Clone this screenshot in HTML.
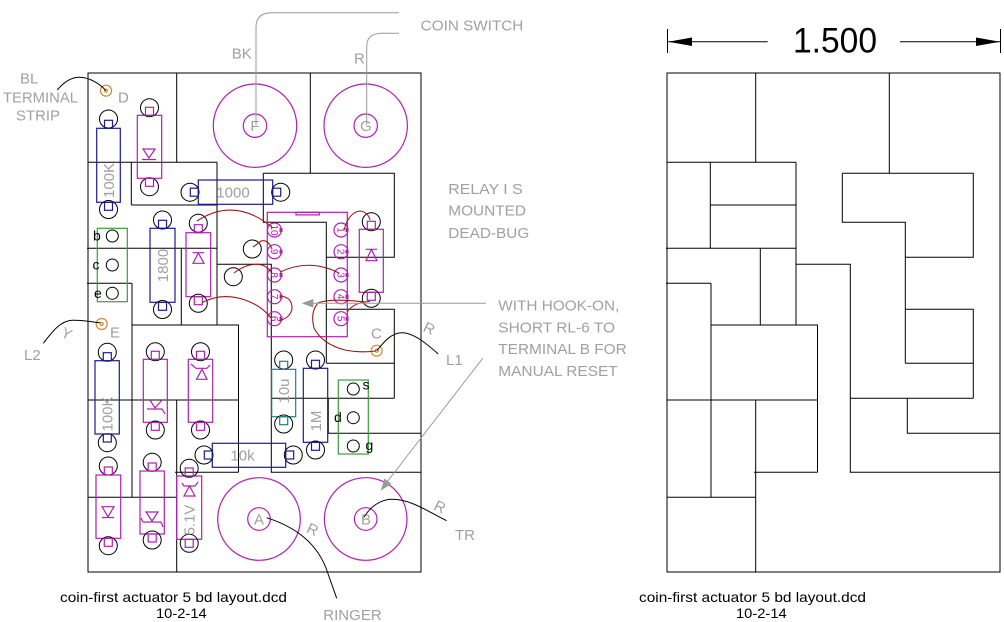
<!DOCTYPE html>
<html><head><meta charset="utf-8"><style>
html,body{margin:0;padding:0;background:#fff}
svg{display:block}
.k{stroke:#000;fill:none;stroke-width:1}
.m{stroke:#b020b0;fill:none;stroke-width:1.2}
.bl{stroke:#1c1c90;fill:none;stroke-width:1.2}
.tl{stroke:#207f7f;fill:none;stroke-width:1.2}
.gr{stroke:#3c9c3c;fill:none;stroke-width:1.2}
.w{stroke:#a01818;fill:none;stroke-width:1.1}
.o{stroke:#d08a30;fill:none;stroke-width:1.2}
.gl{stroke:#9a9a9a;fill:none;stroke-width:1}
.g{fill:#a0a0a0;font-size:15px}
.t{fill:#000;font-size:14px}
.pn{fill:#b020b0;font-size:10px}
</style></head><body>
<svg width="1004" height="622" viewBox="0 0 1004 622" xmlns="http://www.w3.org/2000/svg" font-family="'Liberation Sans', Arial, sans-serif">
<rect width="1004" height="622" fill="#fff"/>
<defs>
<path id="brd" d="M667,73H1000V572H667Z M755.7,73V162.3 M889.3,73V173.3 M667,162.3H796 M710.3,162.3V205 M710.3,205H796 M796,162.3V325 M666,248.3H796 M666,283.3H711 M711,283.3V497.3 M760.3,248.3V325 M711,325H818 M817.5,325V472.3 M667,400H818 M755.7,400V572 M754,472.3H817.5 M667,497.3H755.7 M842.3,173.3H973.3V257.3H905.3 M842.3,173.3V222.3H905.3V363.3 M905.3,309.3H973.3V398.3 M905.3,363.3H973.3 M796,264.3H850.3V472.3H1000 M850.3,398.3H973.3 M907.3,398.3V433.3H1000"/>
</defs>

<!-- right board -->
<use href="#brd" class="k"/>
<path class="k" d="M710.3,205V248.3"/>
<!-- left board -->
<use href="#brd" class="k" transform="translate(-579,0)"/>

<!-- dimension -->
<path class="k" d="M667.5,29V53 M667,41.7H767.7 M900,41.7H1000 M1000.5,29V53"/>
<polygon points="668,41.7 692,37.5 692,46" fill="#000"/>
<polygon points="1000,41.7 976,37.5 976,46" fill="#000"/>
<text x="793" y="52.3" font-size="35" textLength="84" lengthAdjust="spacingAndGlyphs" fill="#000">1.500</text>

<!-- big circles -->
<circle class="m" cx="255" cy="125.7" r="41.7"/><circle class="m" cx="255" cy="125.7" r="11.7"/>
<circle class="m" cx="365.7" cy="125.7" r="41.7"/><circle class="m" cx="365.7" cy="125.7" r="11.7"/>
<circle class="m" cx="259" cy="519" r="41.3"/><circle class="m" cx="259" cy="519" r="11.3"/>
<circle class="m" cx="365.7" cy="519" r="41.3"/><circle class="m" cx="365.7" cy="519" r="11.3"/>
<text class="g" x="255" y="131" text-anchor="middle">F</text>
<text class="g" x="366" y="131" text-anchor="middle">G</text>
<text class="g" x="259" y="524.5" text-anchor="middle">A</text>
<text class="g" x="366" y="524.5" text-anchor="middle">B</text>

<!-- terminals -->
<circle class="o" cx="106" cy="90.7" r="5.5"/><circle class="o" cx="106" cy="90.7" r="1.5"/>
<circle class="o" cx="101.7" cy="324" r="5.5"/><circle class="o" cx="101.7" cy="324" r="1.5"/>
<circle class="o" cx="376.7" cy="350.7" r="5.5"/><circle class="o" cx="376.7" cy="350.7" r="1.5"/>
<text class="g" x="118" y="102.7">D</text>
<text class="g" x="110" y="337.3">E</text>
<text class="g" x="371" y="338.3">C</text>

<!-- upper 100K -->
<rect class="bl" x="96.7" y="128.3" width="23.6" height="74"/>
<circle class="k" cx="108.5" cy="119" r="9"/><rect class="bl" x="104.5" y="120.3" width="8" height="8"/>
<circle class="k" cx="108.5" cy="209.5" r="9"/><rect class="bl" x="104.5" y="202.3" width="8" height="8"/>
<text class="g" transform="translate(108.5,180.5) rotate(-90)" text-anchor="middle" dy="0.36em">100K</text>

<!-- D1 -->
<rect class="m" x="137.3" y="115.3" width="24.4" height="63"/>
<circle class="k" cx="149.5" cy="107.7" r="9"/><rect class="m" x="145.5" y="107.3" width="8" height="8"/>
<circle class="k" cx="149.5" cy="186.7" r="9"/><rect class="m" x="145.5" y="178.3" width="8" height="8"/>
<path class="m" d="M143,149H155L149,158Z M142,159.5H156"/>

<!-- 1000 -->
<rect class="bl" x="198.3" y="180" width="74.4" height="24.3"/>
<circle class="k" cx="190" cy="192.2" r="9"/><rect class="bl" x="190.3" y="188.2" width="8" height="8"/>
<circle class="k" cx="280.7" cy="192.2" r="9"/><rect class="bl" x="272.7" y="188.2" width="8" height="8"/>
<text class="g" x="233" y="197.5" text-anchor="middle">1000</text>

<!-- bce box -->
<rect class="gr" x="97.3" y="228.3" width="30" height="73.4"/>
<circle class="k" cx="112.3" cy="236" r="6"/>
<circle class="k" cx="112.3" cy="265" r="6"/>
<circle class="k" cx="112.3" cy="293.3" r="6"/>
<text class="t" x="93" y="240.5">b</text>
<text class="t" x="92.5" y="269.5">c</text>
<text class="t" x="94" y="298">e</text>

<!-- 1800 -->
<rect class="bl" x="150" y="228.3" width="25" height="74"/>
<circle class="k" cx="162.5" cy="220" r="9"/><rect class="bl" x="158.5" y="220.3" width="8" height="8"/>
<circle class="k" cx="162.5" cy="309.5" r="9"/><rect class="bl" x="158.5" y="302.3" width="8" height="8"/>
<text class="g" transform="translate(162.5,265.5) rotate(-90)" text-anchor="middle" dy="0.36em">1800</text>

<!-- D2 -->
<rect class="m" x="186" y="232.7" width="24.7" height="64"/>
<circle class="k" cx="198.3" cy="223.3" r="9"/><rect class="m" x="194.3" y="224.7" width="8" height="8"/>
<circle class="k" cx="198.3" cy="303.3" r="9"/><rect class="m" x="194.3" y="296.7" width="8" height="8"/>
<path class="m" d="M192.5,252.7H204 M198.3,253L193,263.3H204Z"/>

<!-- unlabeled pads -->
<circle class="k" cx="252.3" cy="249" r="9"/>
<circle class="k" cx="233.3" cy="276.7" r="9"/>

<!-- IC -->
<rect class="m" x="267.3" y="212.3" width="80" height="124.4"/>
<rect class="m" x="296" y="212.3" width="23.3" height="2.6"/>
<g class="m">
<circle cx="274.5" cy="230" r="7"/><circle cx="274.5" cy="251.7" r="7"/><circle cx="274.5" cy="275" r="7"/><circle cx="274.5" cy="296.7" r="7"/><circle cx="274.5" cy="318.7" r="7"/>
<circle cx="341" cy="230" r="7"/><circle cx="341" cy="251.7" r="7"/><circle cx="341" cy="275" r="7"/><circle cx="341" cy="296.7" r="7"/><circle cx="341" cy="318.7" r="7"/>
</g>
<g fill="#b020b0">
<rect x="279.5" y="228" width="3" height="4"/><rect x="279.5" y="249.7" width="3" height="4"/><rect x="279.5" y="273" width="3" height="4"/><rect x="279.5" y="294.7" width="3" height="4"/><rect x="279.5" y="316.7" width="3" height="4"/>
<rect x="345.5" y="228" width="3" height="4"/><rect x="345.5" y="249.7" width="3" height="4"/><rect x="345.5" y="273" width="3" height="4"/><rect x="345.5" y="294.7" width="3" height="4"/><rect x="345.5" y="316.7" width="3" height="4"/>
</g>
<text class="pn" transform="translate(274.5,230) rotate(90)" text-anchor="middle" dy="0.35em">10</text>
<text class="pn" transform="translate(274.5,251.7) rotate(90)" text-anchor="middle" dy="0.35em">9</text>
<text class="pn" transform="translate(274.5,275) rotate(90)" text-anchor="middle" dy="0.35em">8</text>
<text class="pn" transform="translate(274.5,296.7) rotate(90)" text-anchor="middle" dy="0.35em">7</text>
<text class="pn" transform="translate(274.5,318.7) rotate(90)" text-anchor="middle" dy="0.35em">6</text>
<text class="pn" transform="translate(341,230) rotate(90)" text-anchor="middle" dy="0.35em">1</text>
<text class="pn" transform="translate(341,251.7) rotate(90)" text-anchor="middle" dy="0.35em">2</text>
<text class="pn" transform="translate(341,275) rotate(90)" text-anchor="middle" dy="0.35em">3</text>
<text class="pn" transform="translate(341,296.7) rotate(90)" text-anchor="middle" dy="0.35em">4</text>
<text class="pn" transform="translate(341,318.7) rotate(90)" text-anchor="middle" dy="0.35em">5</text>

<!-- D3 -->
<rect class="m" x="359.3" y="229.3" width="24" height="63"/>
<circle class="k" cx="371.3" cy="221.7" r="9"/><rect class="m" x="367.3" y="221.3" width="8" height="8"/>
<circle class="k" cx="371.3" cy="298.3" r="9"/><rect class="m" x="367.3" y="292.3" width="8" height="8"/>
<path class="m" d="M365.5,249.3H377 M371.3,249.5L366,260.7H377Z"/>

<!-- wires -->
<path class="w" d="M197,221 Q235,196 273,228"/>
<path class="w" d="M253,247 L261,241 Q268,239 272,249"/>
<path class="w" d="M234,273 Q248,262 262,265 Q270,268 272,274"/>
<path class="w" d="M280,272 Q310,258 339,273"/>
<path class="w" d="M202,302.7 Q222,292 245,300 Q262,306 271,318"/>
<path class="w" d="M280,296 Q292,297 292,308 Q291,318 278,321"/>
<path class="w" d="M344,230 Q349,212 360,211 Q368,212 370,220"/>
<path class="w" d="M347,312 Q354,302 370,301.5"/>
<path class="w" d="M365,302 Q330,298 318,303 Q310,312 314,328 Q322,344 345,350 Q360,353 376,351"/>

<!-- lower 100K -->
<rect class="bl" x="95" y="360.7" width="24.3" height="73.3"/>
<circle class="k" cx="107.3" cy="352.3" r="9"/><rect class="bl" x="103.3" y="352.7" width="8" height="8"/>
<circle class="k" cx="107.3" cy="442.7" r="9"/><rect class="bl" x="103.3" y="434" width="8" height="8"/>
<text class="g" transform="translate(107.3,414) rotate(-90)" text-anchor="middle" dy="0.36em">100K</text>

<!-- Q1 -->
<rect class="m" x="143.3" y="359.3" width="24" height="63"/>
<circle class="k" cx="155.3" cy="351.7" r="9"/><rect class="m" x="151.3" y="351.3" width="8" height="8"/>
<circle class="k" cx="155.3" cy="430" r="9"/><rect class="m" x="151.3" y="422.3" width="8" height="8"/>
<path class="m" d="M150,400 L155,408 L162,400 M147,409H162 L165,414"/>

<!-- Z1 -->
<rect class="m" x="188.3" y="359.3" width="24.4" height="63"/>
<circle class="k" cx="200.5" cy="351.7" r="9"/><rect class="m" x="196.5" y="351.3" width="8" height="8"/>
<circle class="k" cx="200.5" cy="430" r="9"/><rect class="m" x="196.5" y="422.3" width="8" height="8"/>
<path class="m" d="M191,364 L196,368.3H207 L210,365 M202,369.3 L196.5,379.3H207Z"/>

<!-- 10u -->
<rect class="tl" x="271.7" y="369.3" width="24" height="47.4"/>
<circle class="k" cx="283.7" cy="360" r="9"/><rect class="tl" x="279.7" y="361.3" width="8" height="8"/>
<circle class="k" cx="283.7" cy="424" r="9"/><rect class="tl" x="279.7" y="416.7" width="8" height="8"/>
<text class="g" transform="translate(283.7,391) rotate(-90)" text-anchor="middle" dy="0.36em">10u</text>

<!-- 1M -->
<rect class="bl" x="303.3" y="368.3" width="24.4" height="74"/>
<circle class="k" cx="315.5" cy="360" r="9"/><rect class="bl" x="311.5" y="360.3" width="8" height="8"/>
<circle class="k" cx="315.5" cy="450" r="9"/><rect class="bl" x="311.5" y="442.3" width="8" height="8"/>
<text class="g" transform="translate(315.5,421) rotate(-90)" text-anchor="middle" dy="0.36em">1M</text>

<!-- sdg box -->
<rect class="gr" x="338.3" y="380" width="30" height="74"/>
<circle class="k" cx="353.3" cy="389" r="6"/>
<circle class="k" cx="353.3" cy="417.7" r="6"/>
<circle class="k" cx="353.3" cy="446" r="6"/>
<text class="t" x="362.5" y="389.5">s</text>
<text class="t" x="334" y="422">d</text>
<text class="t" x="365.5" y="450">g</text>

<!-- 10k -->
<rect class="bl" x="212.3" y="443.3" width="73.4" height="24"/>
<circle class="k" cx="204" cy="455" r="9"/><rect class="bl" x="204.3" y="451" width="8" height="8"/>
<circle class="k" cx="293.3" cy="455" r="9"/><rect class="bl" x="285.7" y="451" width="8" height="8"/>
<text class="g" x="242.5" y="460.7" text-anchor="middle">10k</text>

<!-- D4 -->
<rect class="m" x="96" y="475" width="24.7" height="63.3"/>
<circle class="k" cx="108.3" cy="466" r="9"/><rect class="m" x="104.3" y="467" width="8" height="8"/>
<circle class="k" cx="108.3" cy="545.7" r="9"/><rect class="m" x="104.3" y="538.3" width="8" height="8"/>
<path class="m" d="M102,506.7H114L108,516.7Z M102,517.5H114"/>

<!-- Q2 -->
<rect class="m" x="140" y="471" width="24.3" height="63"/>
<circle class="k" cx="152.2" cy="462.3" r="9"/><rect class="m" x="148.2" y="463" width="8" height="8"/>
<circle class="k" cx="152.2" cy="540" r="9"/><rect class="m" x="148.2" y="534" width="8" height="8"/>
<path class="m" d="M146,512H158L152,521Z M143,522H161 L163,527 M143,522 L141,518"/>

<!-- 5.1V -->
<rect class="m" x="176.7" y="476" width="25" height="63.3"/>
<circle class="k" cx="189.2" cy="468.3" r="9"/><rect class="m" x="185.2" y="468" width="8" height="8"/>
<circle class="k" cx="189.2" cy="543.3" r="9"/><rect class="m" x="185.2" y="539.3" width="8" height="8"/>
<path class="m" d="M182,483 L184,486H195 L198,482 M189.5,486 L184,496H195Z"/>
<text class="g" transform="translate(189.2,520) rotate(-90)" text-anchor="middle" dy="0.36em">5.1V</text>

<!-- gray leaders -->
<path class="gl" d="M256,125 V27 Q256,12.7 272,12.7 H399"/>
<path class="gl" d="M366.7,125 V46 Q367,33.3 382,33.3 H399"/>
<path class="gl" d="M313,303.3 H486"/>
<polygon points="301.7,303.3 313.3,299 313.3,307.6" fill="#9a9a9a"/>
<path class="gl" d="M482.7,358.3 L387,482"/>
<polygon points="380.7,490.7 391.6,483.9 384.4,478.5" fill="#9a9a9a"/>

<!-- black leaders -->
<path class="k" d="M57.3,90 C64,82 72,77 80,77.3 C90,77.6 100,84 106,90.7"/>
<path class="k" d="M43.3,343.3 C52,332 60,321 72,320.3 C82,319.7 92,322 100,322.7"/>
<path class="k" d="M376.7,350.7 C384,342 391,333 401.7,332.7 C414,332.5 428,345 438.3,354"/>
<path class="k" d="M364,517.3 C370,507 380,499.5 392,499.3 C412,499.3 430,513 446.7,520.7"/>
<path class="k" d="M266.7,517.7 C292,526 315,540 326,568 L336.7,598.3"/>

<!-- gray labels -->
<text class="g" x="20" y="83.3">BL</text>
<text class="g" x="3" y="102.7" textLength="75" lengthAdjust="spacingAndGlyphs">TERMINAL</text>
<text class="g" x="16" y="120.7" textLength="44" lengthAdjust="spacingAndGlyphs">STRIP</text>
<text class="g" x="231.7" y="58.3">BK</text>
<text class="g" x="354" y="63.3">R</text>
<text class="g" x="420.7" y="30.7" textLength="102.6" lengthAdjust="spacingAndGlyphs">COIN SWITCH</text>
<text class="g" x="448.3" y="194" textLength="74.4" lengthAdjust="spacingAndGlyphs">RELAY I S</text>
<text class="g" x="448.3" y="215.7" textLength="77.7" lengthAdjust="spacingAndGlyphs">MOUNTED</text>
<text class="g" x="448.3" y="238" textLength="81" lengthAdjust="spacingAndGlyphs">DEAD-BUG</text>
<text class="g" x="498.3" y="310.7" textLength="121" lengthAdjust="spacingAndGlyphs">WITH HOOK-ON,</text>
<text class="g" x="498.3" y="332.3" textLength="116.7" lengthAdjust="spacingAndGlyphs">SHORT RL-6 TO</text>
<text class="g" x="498.3" y="354" textLength="128.4" lengthAdjust="spacingAndGlyphs">TERMINAL B FOR</text>
<text class="g" x="498.3" y="376" textLength="119.4" lengthAdjust="spacingAndGlyphs">MANUAL RESET</text>
<text class="g" x="446" y="365">L1</text>
<text class="g" x="455" y="540">TR</text>
<text class="g" x="24" y="360">L2</text>
<text class="g" x="323.3" y="620" textLength="58.4" lengthAdjust="spacingAndGlyphs">RINGER</text>
<text class="g" font-size="13" transform="translate(429.3,328.3) rotate(25)" text-anchor="middle" dy="0.35em">R</text>
<text class="g" font-size="13" transform="translate(440,506.7) rotate(25)" text-anchor="middle" dy="0.35em">R</text>
<text class="g" font-size="13" transform="translate(312.7,529.3) rotate(25)" text-anchor="middle" dy="0.35em">R</text>
<text class="g" font-size="13" transform="translate(66.7,333.3) rotate(25)" text-anchor="middle" dy="0.35em">Y</text>

<!-- bottom captions -->
<text class="t" x="60" y="602" textLength="227" lengthAdjust="spacingAndGlyphs">coin-first actuator 5 bd layout.dcd</text>
<text class="t" x="156" y="618" textLength="50.7" lengthAdjust="spacingAndGlyphs">10-2-14</text>
<text class="t" x="639" y="602" textLength="227" lengthAdjust="spacingAndGlyphs">coin-first actuator 5 bd layout.dcd</text>
<text class="t" x="736" y="618" textLength="50.7" lengthAdjust="spacingAndGlyphs">10-2-14</text>
</svg>
</body></html>
